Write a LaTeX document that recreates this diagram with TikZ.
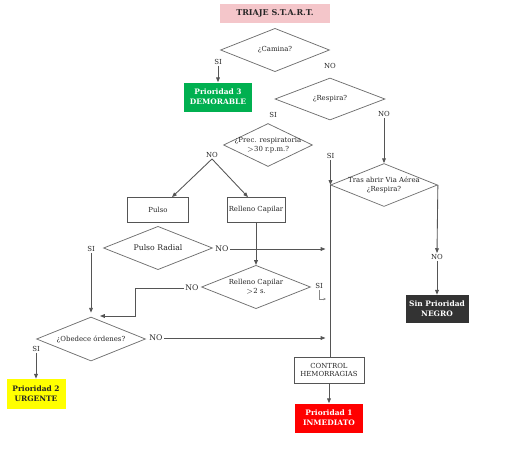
\documentclass[tikz,border=0pt]{standalone}
\usepackage{fontspec}
\setmainfont{DejaVu Serif}
\usepackage{tikz}
\usetikzlibrary{arrows.meta,shapes.geometric,calc}
\definecolor{PINK}{HTML}{F4C6CA}
\definecolor{GREEN}{HTML}{00B050}
\definecolor{YELLOW}{HTML}{FFFF00}
\definecolor{RED}{HTML}{FF0000}
\definecolor{DARK}{HTML}{333333}
\definecolor{LINE}{HTML}{555555}
\definecolor{INK}{HTML}{262626}

\begin{document}
\begin{tikzpicture}[x=0.75pt,y=-0.75pt,font=\fontsize{5.2}{6.6}\selectfont]
\tikzset{arr/.style={-{Triangle[length=3.6pt,width=2.8pt]},LINE,line width=0.65pt},ln/.style={LINE,line width=0.65pt},
 dia/.style={diamond,draw=LINE!85,line width=0.55pt,fill=white,inner sep=0pt,minimum width=81.75pt,minimum height=32.5pt,
  label={[align=center,text=INK,inner sep=0pt]center:#1}},
 bx/.style={rectangle,draw=LINE,line width=0.55pt,inner sep=0pt,minimum width=#1,minimum height=18.75pt,align=center,text=INK},
 prio/.style={rectangle,inner sep=0pt,minimum width=51pt,minimum height=21.75pt,align=center,font=\fontsize{5.6}{7.6}\selectfont\bfseries,text=white},
 lbl/.style={inner sep=0.8pt,text=INK}}
\useasboundingbox (0,0) rectangle (511,475);
% cabecera
\node[prio,fill=PINK,text=INK,minimum width=82.5pt,minimum height=14.25pt,font=\fontsize{6}{7}\selectfont\bfseries] (title) at (275,13) {TRIAJE S.T.A.R.T.};
% preguntas
\node[dia={¿Camina?}] (camina) at (275,50) {};
\node[dia={¿Respira?},minimum height=31.5pt,minimum width=82.5pt] (respira) at (330,99) {};
\node[dia={¿Prec. respiratoria\\ $>$30 r.p.m.?},minimum width=66.75pt,minimum height=32.25pt] (prec) at (268,145) {};
\node[dia={Tras abrir Via Aérea\\ ¿Respira?},minimum width=80.25pt,minimum height=32.25pt] (tras) at (384,185) {};
\node[bx=45.75pt] (pulso) at (158,210) {Pulso};
\node[bx=43.5pt] (relleno) at (256,210) {Relleno Capilar};
\node[dia={\fontsize{5.8}{7}\selectfont Pulso Radial}] (pradial) at (158,248) {};
\node[dia={Relleno Capilar\\ $>$2 s.}] (rc2) at (256,287) {};
\node[dia={¿Obedece órdenes?},minimum height=33pt] (obedece) at (91,339) {};
\node[bx=52.5pt,minimum height=19.5pt] (control) at (329,370) {CONTROL\\ HEMORRAGIAS};
% prioridades
\node[prio,fill=GREEN] (p3) at (218,97) {Prioridad 3\\ DEMORABLE};
\node[prio,fill=YELLOW,text=INK,minimum width=44.25pt,minimum height=22.5pt] (p2) at (36,394) {Prioridad 2\\ URGENTE};
\node[prio,fill=RED] (p1) at (329,418) {Prioridad 1\\ INMEDIATO};
\node[prio,fill=DARK,minimum width=47.25pt,minimum height=21pt] (sinp) at (437,309) {Sin Prioridad\\ NEGRO};
% etiquetas SI / NO
\node[lbl] (siA) at (218,62) {SI};
\node[lbl] (noA) at (330,66) {NO};
\node[lbl] (siB) at (273,115) {SI};
\node[lbl] (noB) at (384,114) {NO};
\node[lbl] (noC) at (212,155) {NO};
\node[lbl] (siC) at (330.5,156) {SI};
\node[lbl] (noD) at (222,249) {\fontsize{5.8}{7}\selectfont NO};
\node[lbl] (siD) at (91,249) {SI};
\node[lbl] (noE) at (192,288) {\fontsize{5.8}{7}\selectfont NO};
\node[lbl] (siE) at (319,286) {SI};
\node[lbl] (noF) at (156,338) {\fontsize{5.8}{7}\selectfont NO};
\node[lbl] (siF) at (36,349) {SI};
\node[lbl] (noG) at (437,257) {NO};
\coordinate (k1) at (135,316);
\coordinate (k2) at (100,316);
\coordinate (k3) at (326,299);
% conectores
\draw[arr] (siA.south) -- (p3.north);
\draw[arr] (noB.south) -- (tras.north);
\draw[arr] (noC.south) -- ($(pulso.north)+(14,0)$);
\draw[arr] (noC.south) -- ($(relleno.north)+(-8,0)$);
\draw[arr] (siC.south) -- (siC.south |- tras.west);
\draw[ln] (tras.west) -- (tras.west |- control.north);
\draw[arr,shorten >=3.5pt] (noD.east) -- (noD.east -| tras.west);
\draw[arr,shorten >=3.5pt] (noF.east) -- (noF.east -| tras.west);
\draw[arr,shorten >=3pt] (siD.south) -- (obedece.north);
\draw[arr] (relleno.south) -- (rc2.north);
\draw[arr] (noE.west) -| (k1) -- (k2);
\draw[-{Stealth[length=2pt,width=1.8pt]},LINE!70,line width=0.3pt] (siE.south) |- (k3);
\draw[arr] (siF.south) -- (p2.north);
\draw[arr] (tras.east) -- (noG.north);
\draw[arr] (noG.south) -- (sinp.north);
\draw[arr] (control.south) -- (p1.north);
\end{tikzpicture}
\end{document}
